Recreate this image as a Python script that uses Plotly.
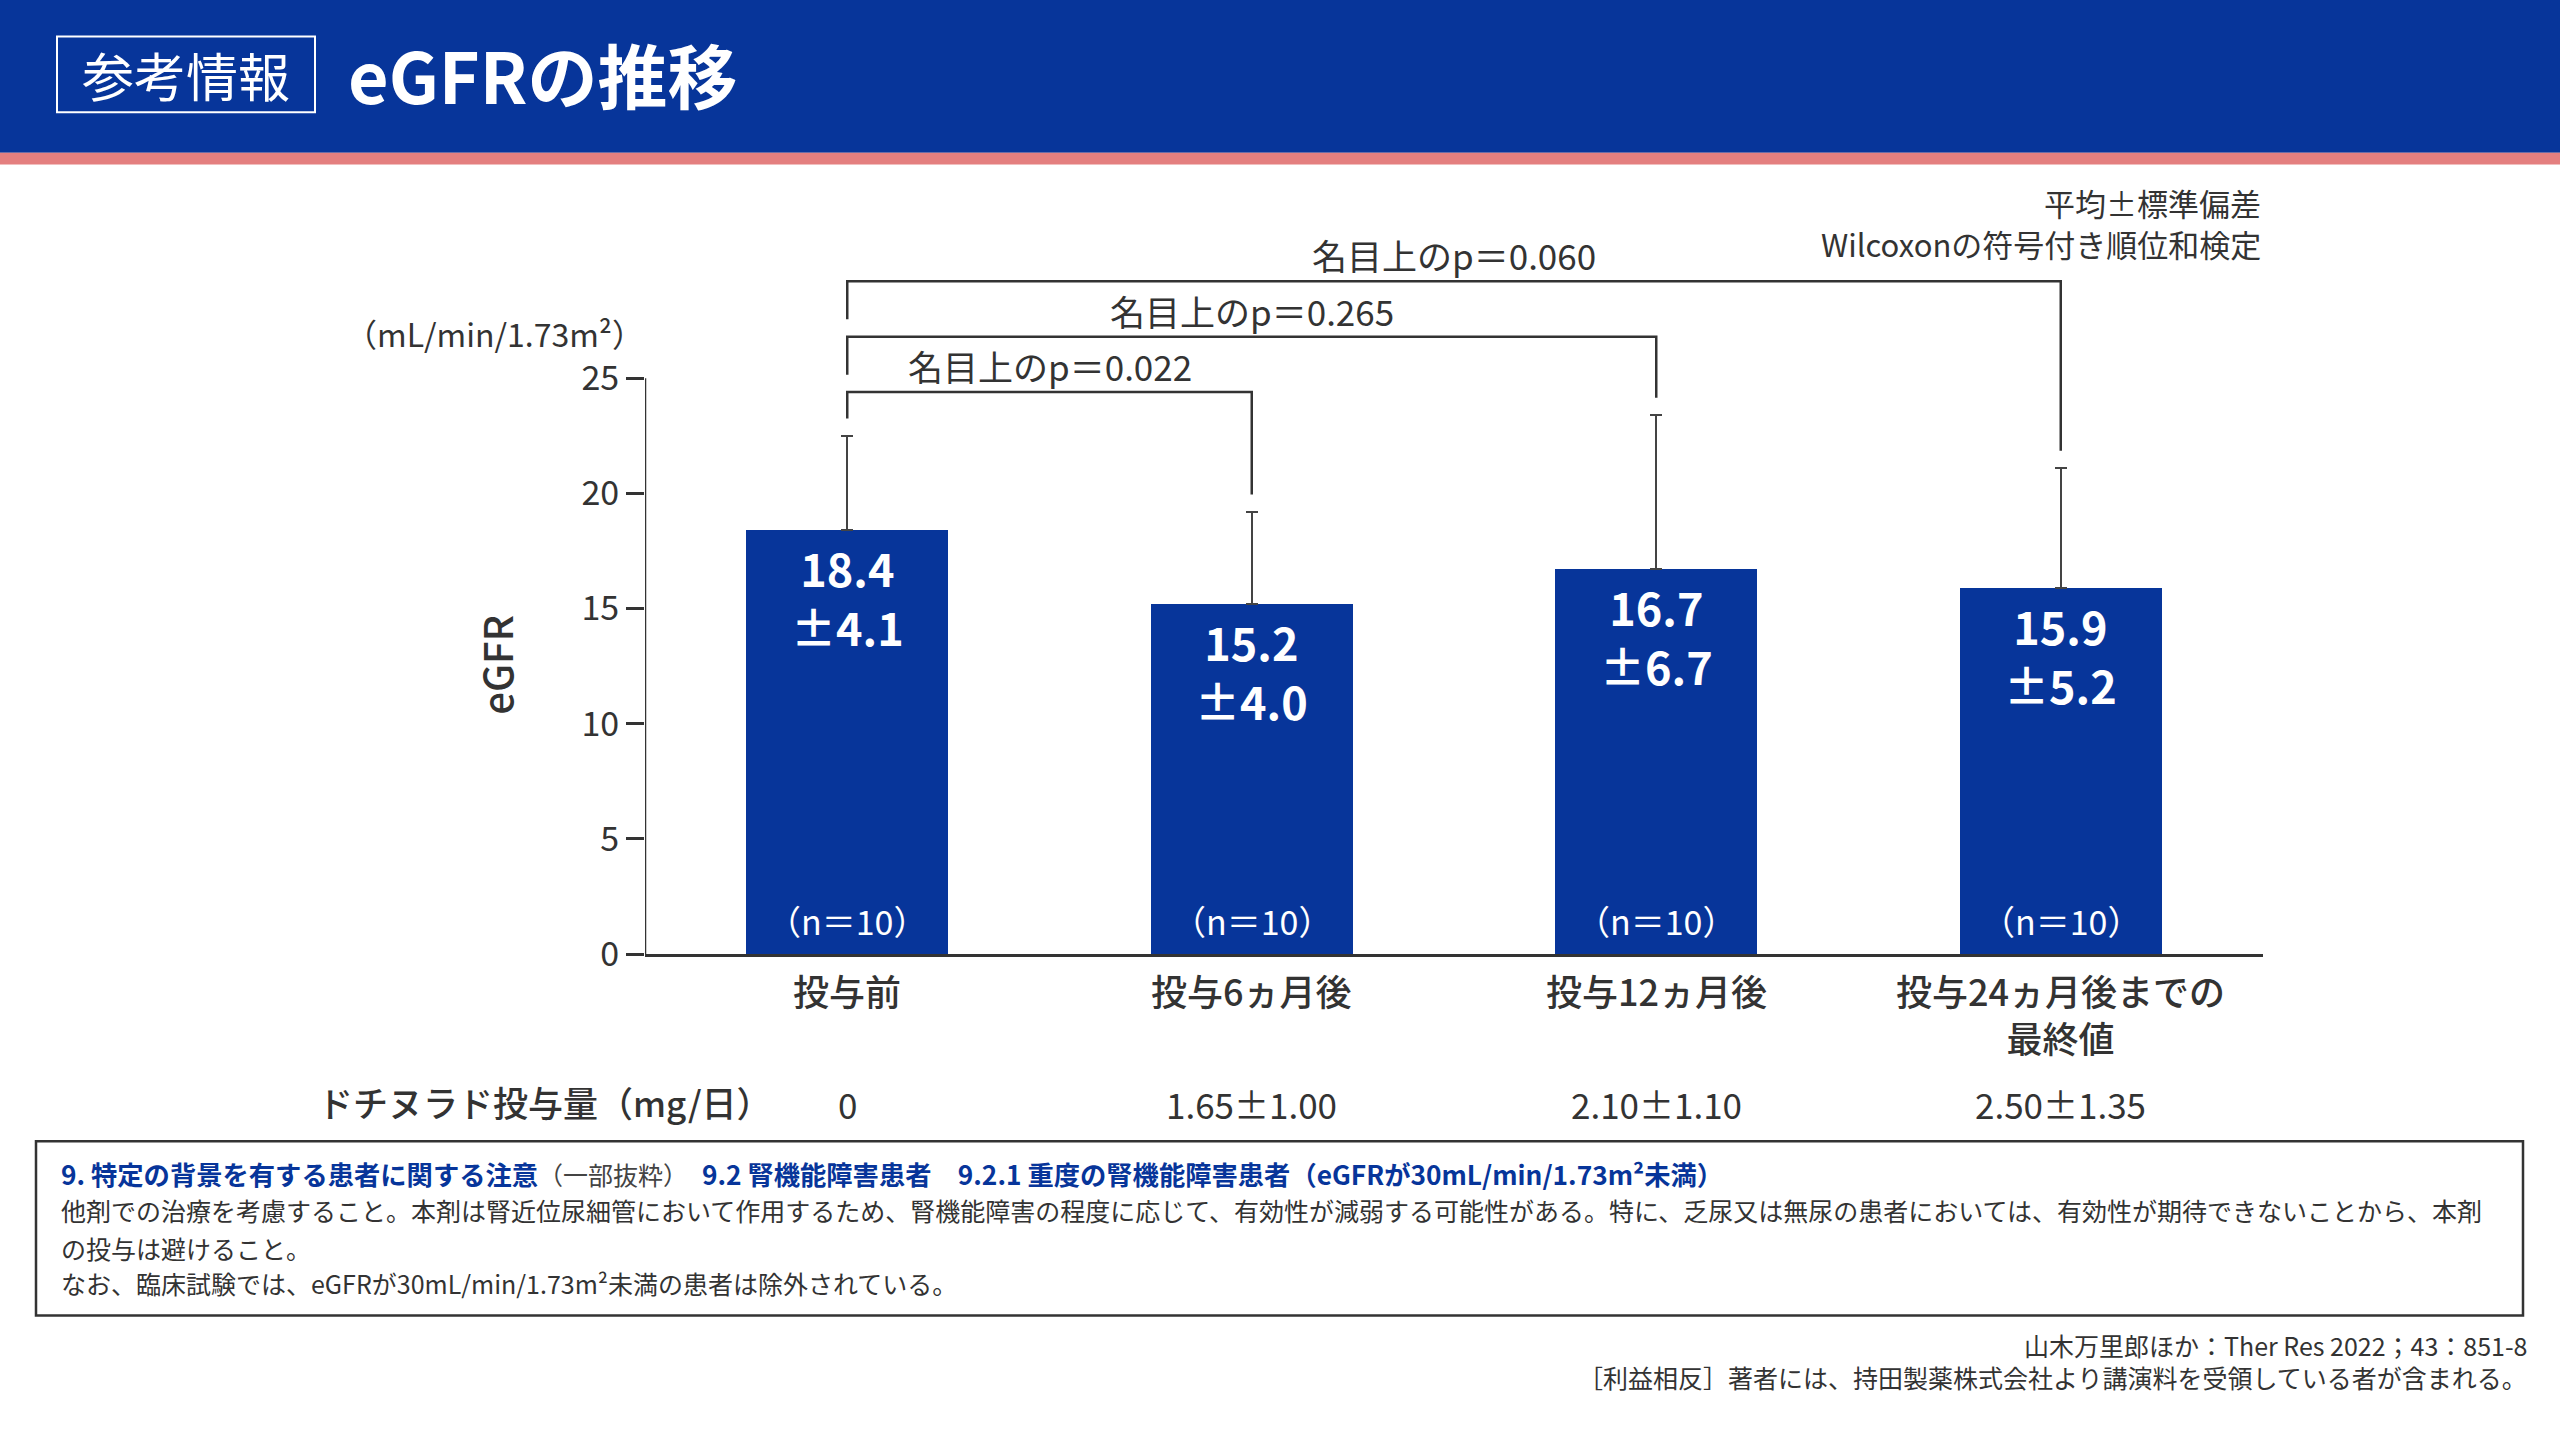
import plotly.graph_objects as go

# data
categories = ["投与前", "投与6ヵ月後", "投与12ヵ月後", "投与24ヵ月後までの<br>最終値"]
egfr_mean = [18.4, 15.2, 16.7, 15.9]
egfr_sd = [4.1, 4.0, 6.7, 5.2]
n_patients = [10, 10, 10, 10]
dose_labels = ["0", "1.65±1.00", "2.10±1.10", "2.50±1.35"]
y_ticks = [0, 5, 10, 15, 20, 25]

# comparisons vs baseline (index of other group, p value text)
comparisons = [(1, "0.022"), (2, "0.265"), (3, "0.060")]

W, H = 2560, 1440
BLUE = "#07359a"
RED = "#e47f7f"
TXT = "#333333"
FONT = "Noto Sans CJK JP"


def px(x):
    return x / W


def py(y):
    return 1 - y / H


x_pos = list(range(len(categories)))

fig = go.Figure()

fig.add_trace(go.Bar(
    x=x_pos, y=egfr_mean, width=0.5,
    marker=dict(color=BLUE, line=dict(width=0)),
    error_y=dict(type="data", array=egfr_sd, arrayminus=[0] * len(egfr_sd),
                 symmetric=False, color="#444444", thickness=2, width=6),
    hoverinfo="skip", showlegend=False,
))

# significance brackets
gap = 0.75
bracket_levels = [24.4, 26.8, 29.2]
annotations = []
prev_top = egfr_mean[0] + egfr_sd[0]
for (j, p), lvl in zip(comparisons, bracket_levels):
    right_top = egfr_mean[j] + egfr_sd[j]
    fig.add_trace(go.Scatter(
        x=[0, 0, j, j], y=[prev_top + gap, lvl, lvl, right_top + gap],
        mode="lines", line=dict(color=TXT, width=2.5),
        hoverinfo="skip", showlegend=False, cliponaxis=False,
    ))
    annotations.append(dict(
        x=j / 2, y=lvl, xref="x", yref="y", yanchor="bottom", yshift=-1,
        text=f"名目上のp＝{p}",
        font=dict(size=35, color=TXT, family=FONT),
    ))
    prev_top = lvl

for i in x_pos:
    # value labels in bars
    annotations.append(dict(
        x=i, y=egfr_mean[i], xref="x", yref="y", yanchor="top", yshift=-3,
        text=f"<b>{egfr_mean[i]:.1f}<br>±{egfr_sd[i]:.1f}</b>",
        font=dict(size=45, color="white", family=FONT),
    ))
    annotations.append(dict(
        x=i, y=0, xref="x", yref="y", yanchor="middle", yshift=34,
        text=f"（n＝{n_patients[i]}）",
        font=dict(size=34, color="white", family=FONT),
    ))
    annotations.append(dict(
        x=i, y=0, xref="x", yref="y", yanchor="top", yshift=-8,
        text=categories[i],
        font=dict(size=36, color=TXT, family=FONT, weight=500),
    ))
    annotations.append(dict(
        x=i, y=0, xref="x", yref="y", yanchor="middle", yshift=-149,
        text=dose_labels[i],
        font=dict(size=35, color=TXT, family=FONT),
    ))

# paper text
annotations += [
    dict(x=px(186), y=py(76), text="参考情報",
         font=dict(size=52, color="white", family=FONT)),
    dict(x=px(346), y=py(75), xanchor="left", text="<b>eGFRの推移</b>",
         font=dict(size=70, color="white", family=FONT)),
    dict(x=px(343), y=py(338), xanchor="left", text="（mL/min/1.73m²）",
         font=dict(size=32, color=TXT, family=FONT)),
    dict(x=px(496), y=py(675), text="eGFR", textangle=-90,
         font=dict(size=40, color=TXT, family=FONT, weight=500)),
    dict(x=px(2263), y=py(206), xanchor="right", text="平均±標準偏差",
         font=dict(size=31, color=TXT, family=FONT)),
    dict(x=px(2263), y=py(247), xanchor="right", text="Wilcoxonの符号付き順位和検定",
         font=dict(size=31, color=TXT, family=FONT)),
    dict(x=px(316), y=py(1119), xanchor="left", text="ドチヌラド投与量（mg/日）",
         font=dict(size=35, color=TXT, family=FONT, weight=500)),
]

note_lines = [
    ("<b>9. 特定の背景を有する患者に関する注意</b><span style='color:#444444;font-weight:normal;font-size:25px'>（一部抜粋）</span>　"
     "<b>9.2 腎機能障害患者</b>　<b>9.2.1 重度の腎機能障害患者（eGFRが30mL/min/1.73m²未満）</b>",
     1192, 26.3, BLUE),
    ("他剤での治療を考慮すること。本剤は腎近位尿細管において作用するため、腎機能障害の程度に応じて、有効性が減弱する可能性がある。"
     "特に、乏尿又は無尿の患者においては、有効性が期待できないことから、本剤", 1229, 25, TXT),
    ("の投与は避けること。", 1267, 25, TXT),
    ("なお、臨床試験では、eGFRが30mL/min/1.73m²未満の患者は除外されている。", 1303, 25, TXT),
]
for txt, yy, sz, col in note_lines:
    annotations.append(dict(x=px(59), y=py(yy), xanchor="left", text=txt,
                            font=dict(size=sz, color=col, family=FONT)))

annotations += [
    dict(x=px(2529), y=py(1366), xanchor="right", text="山木万里郎ほか：Ther Res 2022；43：851-8",
         font=dict(size=25, color=TXT, family=FONT)),
    dict(x=px(2529), y=py(1398), xanchor="right",
         text="［利益相反］著者には、持田製薬株式会社より講演料を受領している者が含まれる。",
         font=dict(size=25, color=TXT, family=FONT)),
]
for a in annotations:
    a.setdefault("showarrow", False)
    a.setdefault("xref", "paper")
    a.setdefault("yref", "paper")
    a.setdefault("xanchor", "center")
    a.setdefault("yanchor", "middle")

shapes = [
    dict(type="rect", xref="paper", yref="paper", x0=0, x1=1, y0=py(155), y1=1,
         fillcolor=BLUE, line=dict(width=0), layer="below"),
    dict(type="rect", xref="paper", yref="paper", x0=0, x1=1, y0=py(167), y1=py(155),
         fillcolor=RED, line=dict(width=0), layer="below"),
    dict(type="rect", xref="paper", yref="paper", x0=px(57), x1=px(315), y0=py(114), y1=py(37),
         line=dict(color="white", width=2)),
    dict(type="line", xref="x", yref="y", x0=-0.5, x1=-0.5, y0=0, y1=y_ticks[-1],
         line=dict(color=TXT, width=2.5)),
    dict(type="rect", xref="paper", yref="paper", x0=px(36), x1=px(2523), y0=py(1336), y1=py(1159),
         line=dict(color=TXT, width=2.5)),
]

ymax = 30
fig.update_layout(
    width=W, height=H, margin=dict(l=0, r=0, t=0, b=0, pad=0),
    paper_bgcolor="white", plot_bgcolor="white",
    font=dict(family=FONT, color=TXT),
    xaxis=dict(domain=[px(645), px(2263)], range=[-0.5, 3.5], showticklabels=False,
               showgrid=False, zeroline=False, showline=True, linecolor=TXT, linewidth=2.5,
               ticks="", fixedrange=True),
    yaxis=dict(domain=[py(969), py(969 - ymax * 23.4)], range=[0, ymax],
               tickvals=y_ticks, ticks="outside", ticklen=18, tickwidth=2.5, tickcolor=TXT,
               tickfont=dict(size=34, color=TXT, family=FONT),
               showgrid=False, zeroline=False, showline=False, fixedrange=True),
    annotations=annotations, shapes=shapes, bargap=0,
)

fig.write_html(
    "out.html",
    config={"displayModeBar": False},
    post_script="document.body.style.margin='0';document.body.style.overflow='hidden';",
)
